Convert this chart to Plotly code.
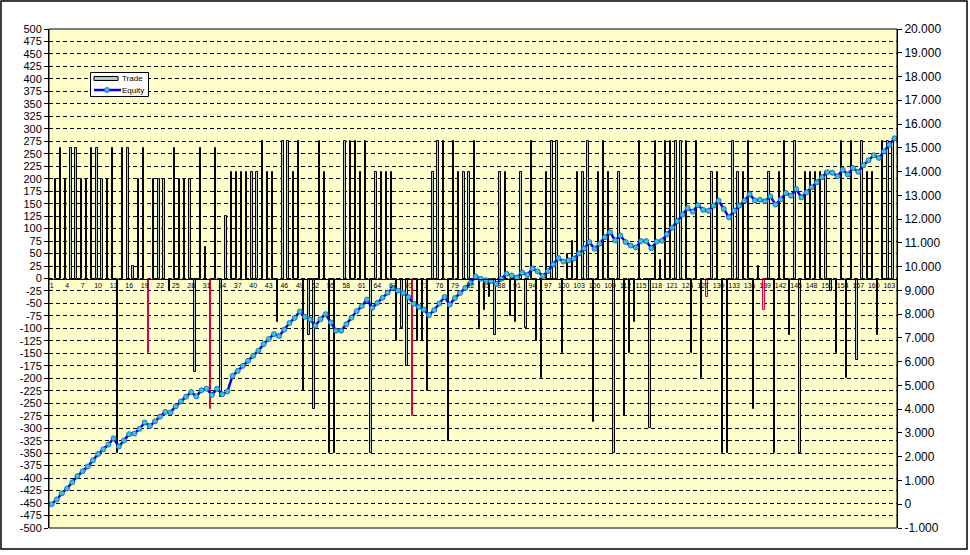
import plotly.graph_objects as go

# ---- data ----
trade_no = list(range(1, 164))          # trade numbers (bars)
trades = [
    200, 262.5, 200, 262.5, 262.5, 200, 200, 262.5, 262.5, 200,
    200, 262.5, -350, 262.5, 262.5, 25, 200, 262.5, -150, 200,
    200, 200, -25, 262.5, 200, 200, 200, -187.5, 262.5, 62.5,
    -262.5, 262.5, -237.5, 125, 212.5, 212.5, 212.5, 212.5, 212.5, 212.5,
    275, 212.5, 212.5, -87.5, 275, 275, 212.5, 275, -225, -112.5,
    -262.5, 275, 212.5, -350, -350, 0, 275, 275, 275, 212.5,
    275, -350, 212.5, 212.5, 212.5, 212.5, -125, -100, -175, -275,
    -125, -125, -225, 212.5, 275, 275, -325, 275, 212.5, 212.5,
    212.5, 275, -100, -62.5, -37.5, -112.5, 212.5, 212.5, -75, -87.5,
    212.5, -100, 275, -125, -200, 212.5, 275, 275, -150, 50,
    75, 212.5, 212.5, 275, -287.5, 212.5, 275, 212.5, -350, 212.5,
    -275, -150, -87.5, 275, 0, -300, 275, 37.5, 275, 275,
    275, 275, 275, -150, 275, -200, -37.5, 212.5, 212.5, -350,
    -350, 275, 212.5, 212.5, 275, -262.5, 25, -62.5, 212.5, -350,
    212.5, 275, -112.5, 275, -350, 212.5, 212.5, 212.5, 212.5, 212.5,
    -25, -150, 275, -200, 275, -162.5, 275, 212.5, 212.5, -112.5,
    275, 275, 275,
]
red_trades = [19, 31, 70, 127, 138]     # trades drawn with a red outline

point_no = list(range(1, 165))          # equity points
equity = [
    0, 200, 462.5, 662.5, 925, 1187.5, 1387.5, 1587.5, 1850, 2112.5,
    2312.5, 2512.5, 2775, 2425, 2687.5, 2950, 2975, 3175, 3437.5, 3287.5,
    3487.5, 3687.5, 3887.5, 3862.5, 4125, 4325, 4525, 4725, 4537.5, 4800,
    4862.5, 4600, 4862.5, 4625, 4750, 5400, 5612.5, 5825, 6037.5, 6250,
    6462.5, 6737.5, 6950, 7162.5, 7075, 7350, 7625, 7837.5, 8112.5, 7887.5,
    7775, 7512.5, 7787.5, 8000, 7650, 7300, 7300, 7575, 7850, 8125,
    8337.5, 8612.5, 8262.5, 8475, 8687.5, 8900, 9112.5, 8987.5, 8887.5, 8712.5,
    8437.5, 8312.5, 8187.5, 7962.5, 8175, 8450, 8725, 8400, 8675, 8887.5,
    9100, 9312.5, 9587.5, 9487.5, 9425, 9387.5, 9275, 9487.5, 9700, 9625,
    9537.5, 9750, 9650, 9925, 9800, 9600, 9812.5, 10087.5, 10362.5, 10212.5,
    10262.5, 10337.5, 10550, 10762.5, 11037.5, 10750, 10962.5, 11237.5, 11450, 11100,
    11312.5, 11037.5, 10887.5, 10800, 11075, 11075, 10775, 11050, 11087.5, 11362.5,
    11637.5, 11912.5, 12187.5, 12462.5, 12312.5, 12587.5, 12387.5, 12350, 12562.5, 12775,
    12425, 12075, 12350, 12562.5, 12775, 13050, 12787.5, 12812.5, 12750, 12962.5,
    12612.5, 12825, 13100, 12987.5, 13262.5, 12912.5, 13125, 13337.5, 13550, 13762.5,
    13975, 13950, 13800, 14075, 13875, 14150, 13987.5, 14262.5, 14475, 14687.5,
    14575, 14850, 15125, 15400,
]

x_tick_vals = list(range(1, 164, 3))
x_tick_text = [str(v) for v in x_tick_vals]
left_ticks = list(range(-500, 501, 25))
left_text = [str(v) for v in left_ticks]
right_ticks = list(range(-1000, 20001, 1000))
right_text = [f"{v:,}".replace(",", ".") for v in right_ticks]
legend_names = ["Trade", "Equity"]

FONT = "Liberation Sans, Arial, sans-serif"
TRADE_FILL = "#b4ccc6"
LINE_BLUE = "#0000ff"
MARK_CYAN = "#33cccc"

bar_line_colors = ["#e0004c" if n in red_trades else "black" for n in trade_no]
bar_fill_colors = ["#f2c8d4" if n in red_trades else TRADE_FILL for n in trade_no]

fig = go.Figure()
fig.add_trace(go.Bar(
    x=trade_no, y=trades, name=legend_names[0],
    width=0.26, offset=0.62,
    marker=dict(color=bar_fill_colors, line=dict(color=bar_line_colors, width=1)),
    yaxis="y", showlegend=False,
))
fig.add_trace(go.Scatter(
    x=point_no, y=equity, name=legend_names[1], mode="lines+markers",
    line=dict(color=LINE_BLUE, width=2.5),
    marker=dict(symbol="circle", size=5, color=MARK_CYAN,
                line=dict(color="#1a4fd0", width=0.8)),
    yaxis="y2", showlegend=False,
))

# ---- hand-built compact legend (paper coordinates) ----
L, R, B, T = 49, 897, 528, 29
def px(xp):
    return (xp - L) / (R - L)
def py(yp):
    return (B - yp) / (B - T)

shapes = [
    dict(type="rect", xref="paper", yref="paper", x0=0, x1=1, y0=0, y1=1,
         line=dict(color="black", width=1), fillcolor="rgba(0,0,0,0)", layer="above"),
    dict(type="rect", xref="paper", yref="paper",
         x0=px(1), x1=px(967), y0=py(549), y1=py(1),
         line=dict(color="black", width=1.5), fillcolor="rgba(0,0,0,0)", layer="above"),
    # legend box
    dict(type="rect", xref="paper", yref="paper",
         x0=px(90.5), x1=px(148.5), y0=py(96.5), y1=py(72.5),
         line=dict(color="black", width=1), fillcolor="white", layer="above"),
    # Trade symbol
    dict(type="rect", xref="paper", yref="paper",
         x0=px(94), x1=px(118), y0=py(80.5), y1=py(76.5),
         line=dict(color="black", width=1), fillcolor=TRADE_FILL, layer="above"),
    # Equity symbol
    dict(type="line", xref="paper", yref="paper",
         x0=px(94), x1=px(121), y0=py(90), y1=py(90),
         line=dict(color=LINE_BLUE, width=2.5), layer="above"),
    dict(type="circle", xref="paper", yref="paper",
         x0=px(104.5), x1=px(109.5), y0=py(92.5), y1=py(87.5),
         line=dict(color="#1a4fd0", width=0.8), fillcolor=MARK_CYAN, layer="above"),
]
annotations = [
    dict(xref="paper", yref="paper", x=px(120), y=py(78.5), text=legend_names[0],
         showarrow=False, xanchor="left", yanchor="middle",
         font=dict(size=8, family=FONT, color="black")),
    dict(xref="paper", yref="paper", x=px(120), y=py(90.5), text=legend_names[1],
         showarrow=False, xanchor="left", yanchor="middle",
         font=dict(size=8, family=FONT, color="black")),
]

fig.update_layout(
    width=970, height=555,
    margin=dict(l=L, r=970 - R, t=T, b=555 - B),
    paper_bgcolor="white",
    plot_bgcolor="#ffffcc",
    font=dict(family=FONT, color="black"),
    bargap=0,
    showlegend=False,
    xaxis=dict(
        range=[0.5, 164.5], anchor="free", position=0.5,
        tickvals=x_tick_vals, ticktext=x_tick_text,
        tickfont=dict(size=7, family=FONT),
        showline=True, linecolor="black", linewidth=1,
        showgrid=False, zeroline=False, ticks="",
    ),
    yaxis=dict(
        range=[-500, 500], tickvals=left_ticks, ticktext=left_text,
        tickfont=dict(size=11, family=FONT),
        ticks="outside", ticklen=4, tickcolor="black",
        showline=True, linecolor="black", linewidth=1,
        showgrid=True, gridcolor="black", gridwidth=1, griddash="4px,3px",
        zeroline=False,
    ),
    yaxis2=dict(
        range=[-1000, 20000], overlaying="y", side="right",
        tickvals=right_ticks, ticktext=right_text,
        tickfont=dict(size=12, family=FONT),
        ticks="outside", ticklen=4, tickcolor="black",
        showline=True, linecolor="black", linewidth=1,
        showgrid=False, zeroline=False,
    ),
    shapes=shapes,
    annotations=annotations,
)

fig.write_html("out.html", config={"displayModeBar": False},
               post_script="document.body.style.margin='0';")
